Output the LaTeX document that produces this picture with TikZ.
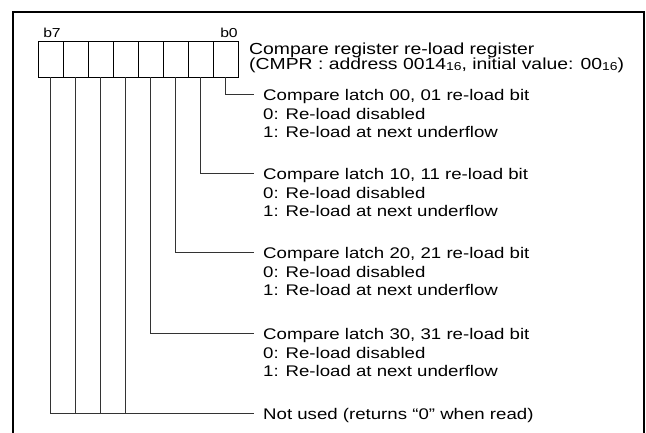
\documentclass[tikz,border=0pt]{standalone}
\usepackage{fontspec}
\setmainfont{Liberation Sans}[FakeStretch=1.21]
\newcommand{\hexsub}[1]{\raisebox{-1.5pt}{\fontsize{11.5}{11.5}\selectfont #1}}
\begin{document}
\begin{tikzpicture}[x=1pt, y=-1pt,
    cell/.style={draw, minimum width=25pt, minimum height=36pt, inner sep=0pt, line width=.8pt},
    bitlbl/.style={font=\fontsize{13}{13}\selectfont, inner sep=0pt, anchor=base},
    blk/.style={font=\fontsize{15.4}{18.7}\selectfont, align=left, inner sep=0pt, anchor=base west},
    wire/.style={line width=.8pt, black!80}]
    \useasboundingbox (0,0) rectangle (646,432);
    % frame
    \draw[line width=2pt] (12.7,440) -- (12.7,12) -- (644,12) -- (644,440);
    % register cells, b0 on the right
    \foreach \i in {0,...,7}
        \node[cell] (c\i) at ({225.5-25*\i},59) {};
    \node[bitlbl] (l7) at (52,37) {b7};
    \node[bitlbl] (l0) at (229,37) {b0};
    % base of a multi-line node = last line
    \node[blk, font=\fontsize{16}{15}\selectfont] (ttl) at (249,69.3)
        {Compare register re-load register\\
         (CMPR : address 0014\hexsub{16}, initial value: 00\hexsub{16})};
    % bit descriptions
    \foreach \i/\y/\a/\b in {0/94/00/01, 1/173/10/11, 2/252/20/21, 3/333/30/31} {
        \coordinate (e\i) at (254,\y);
        \node[blk] (t\i) at (263,\y+43.9)
            {Compare latch \a, \b\ re-load bit\\
             0: Re-load disabled\\
             1: Re-load at next underflow};
        \draw[wire] (c\i.south) |- (e\i);
    }
    \coordinate (e4) at (254,413);
    \node[blk] (t4) at (263,419.5) {Not used (returns “0” when read)};
    \foreach \i in {4,...,7}
        \draw[wire] (c\i.south) |- (e4);
\end{tikzpicture}
\end{document}
